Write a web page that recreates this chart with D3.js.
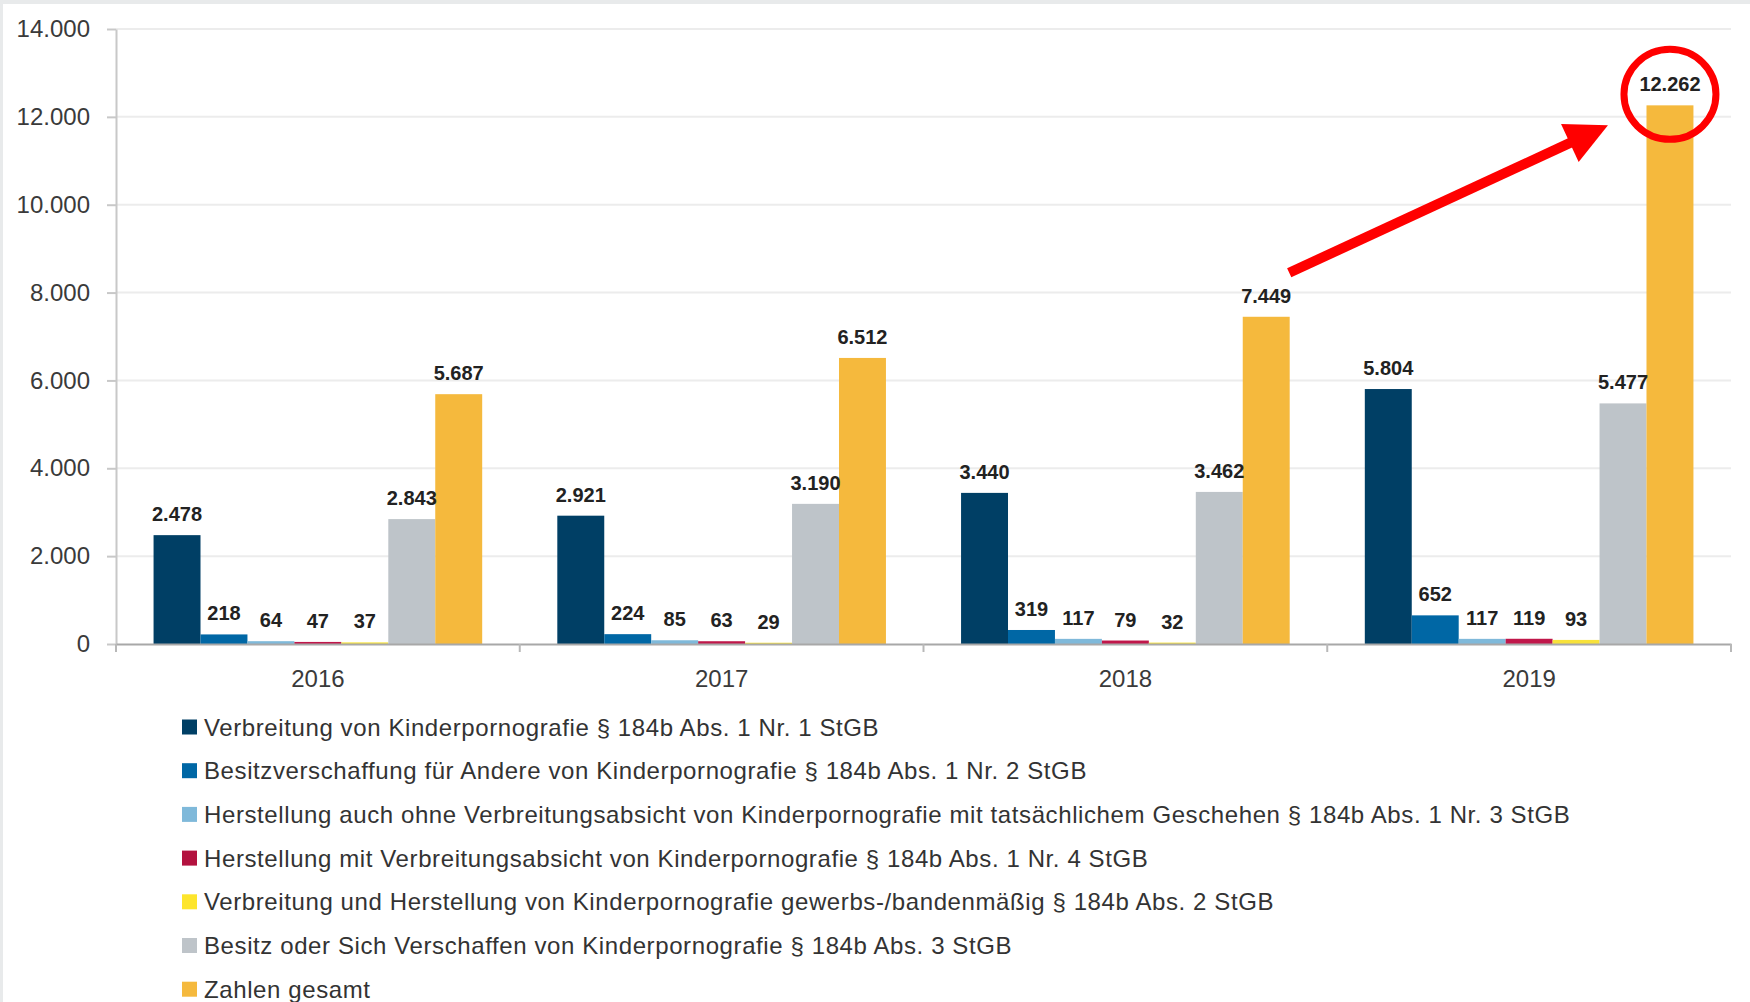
<!DOCTYPE html>
<html>
<head>
<meta charset="utf-8">
<script src="https://cdn.jsdelivr.net/npm/d3@7"></script>
<style>
  html, body { margin: 0; padding: 0; background: #fff; }
  svg { display: block; }
</style>
</head>
<body>
<svg id="chart" width="1750" height="1002"></svg>
<script>
// Daten
var jahre = ["2016", "2017", "2018", "2019"];
var reihen = [
  "Verbreitung von Kinderpornografie § 184b Abs. 1 Nr. 1 StGB",
  "Besitzverschaffung für Andere von Kinderpornografie § 184b Abs. 1 Nr. 2 StGB",
  "Herstellung auch ohne Verbreitungsabsicht von Kinderpornografie mit tatsächlichem Geschehen § 184b Abs. 1 Nr. 3 StGB",
  "Herstellung mit Verbreitungsabsicht von Kinderpornografie § 184b Abs. 1 Nr. 4 StGB",
  "Verbreitung und Herstellung von Kinderpornografie gewerbs-/bandenmäßig § 184b Abs. 2 StGB",
  "Besitz oder Sich Verschaffen von Kinderpornografie § 184b Abs. 3 StGB",
  "Zahlen gesamt"
];
var verbreitung = [2478, 2921, 3440, 5804];
var besitzverschaffung = [218, 224, 319, 652];
var herstellungOhne = [64, 85, 117, 117];
var herstellungMit = [47, 63, 79, 119];
var gewerbs = [37, 29, 32, 93];
var besitz = [2843, 3190, 3462, 5477];
var gesamt = [5687, 6512, 7449, 12262];
var yTicks = [0, 2000, 4000, 6000, 8000, 10000, 12000, 14000];

var werte = [verbreitung, besitzverschaffung, herstellungOhne, herstellungMit, gewerbs, besitz, gesamt];
var farben = ["#003f65", "#0067a5", "#7fb9da", "#c0174a", "#f8e23a", "#bec4c9", "#f5b93d"];
var legendFarben = ["#003f65", "#0067a5", "#7fb9da", "#b3123f", "#fde52c", "#bec4c9", "#f5b93d"];

var svg = d3.select("#chart");

// heller Rahmen oben und links
svg.append("rect").attr("x", 0).attr("y", 0).attr("width", 1750).attr("height", 4).attr("fill", "#e8eaeb");
svg.append("rect").attr("x", 0).attr("y", 0).attr("width", 3).attr("height", 1002).attr("fill", "#e8eaeb");

var de = d3.formatLocale({ decimal: ",", thousands: ".", grouping: [3], currency: ["", " €"] });
var fmt = de.format(",d");

var x0 = d3.scaleBand().domain(jahre).range([116, 1731]).padding(0);
var x1 = d3.scaleBand().domain(d3.range(reihen.length)).range([0, x0.bandwidth()]).paddingInner(0).paddingOuter(0.8);
var y = d3.scaleLinear().domain([0, 14000]).range([644, 29]);

// Gitterlinien
svg.append("g")
  .selectAll("line")
  .data(yTicks.slice(1))
  .enter()
  .append("line")
  .attr("x1", 116)
  .attr("x2", 1731)
  .attr("y1", function(d) { return y(d); })
  .attr("y2", function(d) { return y(d); })
  .style("stroke", "#ececec")
  .style("stroke-width", 2);

// y-Achse
var yAxis = d3.axisLeft(y)
  .tickValues(yTicks)
  .tickFormat(fmt)
  .tickSizeInner(9)
  .tickSizeOuter(0)
  .tickPadding(17);

var gy = svg.append("g").attr("transform", "translate(116,0)").call(yAxis);
gy.select(".domain").style("stroke", "#c8c8c8").style("stroke-width", 2);
gy.selectAll(".tick line").style("stroke", "#c8c8c8").style("stroke-width", 2);
gy.selectAll("text")
  .attr("font-family", "Liberation Sans, Arial, sans-serif")
  .attr("font-size", "24px")
  .attr("fill", "#3a3a3a");

// Balken
var gruppen = svg.append("g")
  .selectAll("g")
  .data(jahre)
  .enter()
  .append("g")
  .attr("transform", function(d) { return "translate(" + x0(d) + ",0)"; });

gruppen.selectAll("rect")
  .data(function(d, j) { return werte.map(function(s, i) { return { i: i, v: s[j] }; }); })
  .enter()
  .append("rect")
  .attr("x", function(d) { return x1(d.i); })
  .attr("width", x1.bandwidth())
  .attr("y", function(d) { return y(d.v); })
  .attr("height", function(d) { return y(0) - y(d.v); })
  .style("fill", function(d) { return farben[d.i]; });

gruppen.selectAll("text")
  .data(function(d, j) { return werte.map(function(s, i) { return { i: i, v: s[j] }; }); })
  .enter()
  .append("text")
  .attr("text-anchor", "middle")
  .attr("x", function(d) { return x1(d.i) + x1.bandwidth() / 2; })
  .attr("y", function(d) { return y(d.v) - 14; })
  .text(function(d) { return fmt(d.v); })
  .attr("font-family", "Liberation Sans, Arial, sans-serif")
  .attr("font-weight", "bold")
  .attr("font-size", "20px")
  .attr("fill", "#222");

// x-Achse
var xAxis = d3.axisBottom(x0).tickSize(0).tickPadding(26);
var gx = svg.append("g").attr("transform", "translate(0,644)").call(xAxis);
gx.select(".domain").style("stroke", "#a8a8a8").style("stroke-width", 2);
gx.selectAll("text")
  .attr("font-family", "Liberation Sans, Arial, sans-serif")
  .attr("font-size", "24px")
  .attr("fill", "#3a3a3a");
gx.append("g")
  .selectAll("line")
  .data(jahre.concat(["ende"]))
  .enter()
  .append("line")
  .attr("x1", function(d, i) { return x0.range()[0] + i * x0.step(); })
  .attr("x2", function(d, i) { return x0.range()[0] + i * x0.step(); })
  .attr("y1", 0)
  .attr("y2", 8)
  .style("stroke", "#b8b8b8")
  .style("stroke-width", 2);

// Legende
var legende = svg.append("g")
  .selectAll("g")
  .data(reihen)
  .enter()
  .append("g")
  .attr("transform", function(d, i) { return "translate(182," + (727 + i * 43.7) + ")"; });

legende.append("rect")
  .attr("x", 0)
  .attr("y", -7.5)
  .attr("width", 15)
  .attr("height", 15)
  .style("fill", function(d, i) { return legendFarben[i]; });

legende.append("text")
  .attr("x", 22)
  .attr("y", 8.5)
  .text(function(d) { return d; })
  .attr("font-family", "Liberation Sans, Arial, sans-serif")
  .attr("font-size", "24px")
  .attr("letter-spacing", "0.6px")
  .attr("fill", "#333");

// Markierung: Pfeil und Kreis
var letzte = reihen.length - 1;
var kx = x0("2019") + x1(letzte) + x1.bandwidth() / 2;
var ky = y(gesamt[3]) - 11;
svg.append("ellipse")
  .attr("cx", kx)
  .attr("cy", ky)
  .attr("rx", 46)
  .attr("ry", 45)
  .style("fill", "none")
  .style("stroke", "#f00")
  .style("stroke-width", 7);

var ax = x0("2018") + x1(letzte) + x1.bandwidth() / 2 + 23;
var ay = y(gesamt[2]) - 44;
var tx = kx - 62, ty = ky + 31;
var dx = tx - ax, dy = ty - ay, len = Math.sqrt(dx * dx + dy * dy);
var ux = dx / len, uy = dy / len;
var kopf = 42, halb = 21;
var bx = tx - ux * kopf, by = ty - uy * kopf;
svg.append("line")
  .attr("x1", ax).attr("y1", ay)
  .attr("x2", bx + ux * 2).attr("y2", by + uy * 2)
  .style("stroke", "#f00")
  .style("stroke-width", 10);
svg.append("path")
  .attr("d", "M" + tx + "," + ty +
    "L" + (bx - uy * halb) + "," + (by + ux * halb) +
    "L" + (bx + uy * halb) + "," + (by - ux * halb) + "Z")
  .style("fill", "#f00");
</script>
</body>
</html>
